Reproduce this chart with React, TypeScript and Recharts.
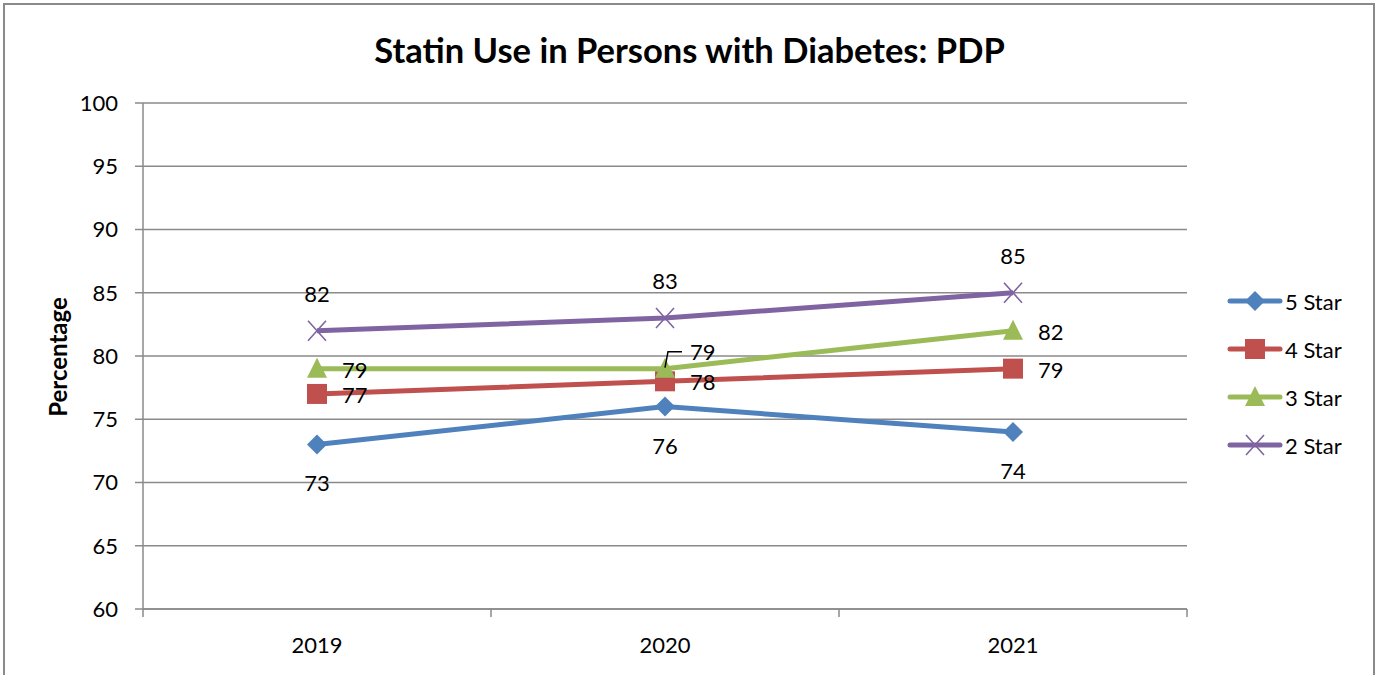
import React from 'react';
import { LineChart, Line, XAxis, YAxis, CartesianGrid, LabelList } from 'recharts';

const years = ['2019', '2020', '2021'];
const fiveStar = [73, 76, 74];
const fourStar = [77, 78, 79];
const threeStar = [79, 79, 82];
const twoStar = [82, 83, 85];
const yTicks = [60, 65, 70, 75, 80, 85, 90, 95, 100];

const data = years.map((year, i) => ({
  year,
  five: fiveStar[i],
  four: fourStar[i],
  three: threeStar[i],
  two: twoStar[i],
}));

const FONT = 'Lato, "Open Sans", sans-serif';
const GRID = '#8a8a8a';
const PLOT_LEFT = 143;
const PLOT_RIGHT = 190;
const PLOT_W = 1377 - PLOT_LEFT - PLOT_RIGHT;
const HALF_BAND = PLOT_W / (years.length * 2);

type Shape = 'diamond' | 'square' | 'triangle' | 'cross';
type LabelPos = 'below' | 'right' | 'above';

const series: { key: string; name: string; color: string; shape: Shape; label: LabelPos }[] = [
  { key: 'five', name: '5 Star', color: '#4F81BD', shape: 'diamond', label: 'below' },
  { key: 'four', name: '4 Star', color: '#C0504D', shape: 'square', label: 'right' },
  { key: 'three', name: '3 Star', color: '#9BBB59', shape: 'triangle', label: 'right' },
  { key: 'two', name: '2 Star', color: '#8064A2', shape: 'cross', label: 'above' },
];

const Marker = ({ cx, cy, shape, color }: { cx: number; cy: number; shape: Shape; color: string }) => {
  if (cx == null || cy == null) return null;
  if (shape === 'diamond')
    return <path d={`M${cx},${cy - 10}L${cx + 10},${cy}L${cx},${cy + 10}L${cx - 10},${cy}Z`} fill={color} />;
  if (shape === 'square') return <rect x={cx - 10} y={cy - 10} width={20} height={20} fill={color} />;
  if (shape === 'triangle')
    return <path d={`M${cx},${cy - 11}L${cx + 10},${cy + 9}L${cx - 10},${cy + 9}Z`} fill={color} />;
  return (
    <path
      d={`M${cx - 9},${cy - 10}L${cx + 9},${cy + 10}M${cx + 9},${cy - 10}L${cx - 9},${cy + 10}`}
      stroke={color}
      strokeWidth={1.6}
      fill="none"
    />
  );
};

const makeLabel = (pos: LabelPos, key: string) => (props: any) => {
  const { x, y, value, index } = props;
  const common = { fontFamily: FONT, fontSize: 22, fill: '#000' };
  if (key === 'three' && index === 1) {
    // moved label with a leader line, as in the source
    return (
      <g>
        <path d={`M${x},${y - 1}L${x + 3},${y - 17}L${x + 17},${y - 17}`} stroke="#000" strokeWidth={1.5} fill="none" />
        <text x={x + 25} y={y - 17} dy="0.36em" textAnchor="start" {...common}>
          {value}
        </text>
      </g>
    );
  }
  if (pos === 'below')
    return (
      <text x={x} y={y + 39} dy="0.36em" textAnchor="middle" {...common}>
        {value}
      </text>
    );
  if (pos === 'above')
    return (
      <text x={x} y={y - 37} dy="0.36em" textAnchor="middle" {...common}>
        {value}
      </text>
    );
  return (
    <text x={x + 25} y={y + 1} dy="0.36em" textAnchor="start" {...common}>
      {value}
    </text>
  );
};

const XTick = (props: any) => {
  const { x, y, payload, index } = props;
  const top = y - 8;
  return (
    <g>
      <line x1={x - HALF_BAND} x2={x - HALF_BAND} y1={top} y2={top + 8} stroke={GRID} strokeWidth={1.5} />
      {index === years.length - 1 && (
        <line x1={x + HALF_BAND} x2={x + HALF_BAND} y1={top} y2={top + 8} stroke={GRID} strokeWidth={1.5} />
      )}
      <text x={x} y={top + 36} dy="0.36em" textAnchor="middle" fontFamily={FONT} fontSize={22} fill="#000">
        {payload.value}
      </text>
    </g>
  );
};

const LegendBox = () => (
  <div style={{ position: 'absolute', left: 1226, top: 277, fontFamily: FONT, fontSize: 22 }}>
    {series.map((s) => (
      <div key={s.key} style={{ display: 'flex', alignItems: 'center', height: 48 }}>
        <svg width={58} height={24}>
          <line x1={4} x2={54} y1={12} y2={12} stroke={s.color} strokeWidth={5} strokeLinecap="round" />
          <Marker cx={29} cy={12} shape={s.shape} color={s.color} />
        </svg>
        <span style={{ marginLeft: 1 }}>{s.name}</span>
      </div>
    ))}
  </div>
);

export default function App() {
  return (
    <div style={{ position: 'absolute', left: 0, top: 0, width: 1377, height: 675, overflow: 'hidden', background: '#fff' }}>
      <div
        style={{
          position: 'absolute',
          left: 3,
          top: 3,
          width: 1368,
          height: 720,
          border: '2px solid #8a8a8a',
        }}
      />
      <div
        style={{
          position: 'absolute',
          left: 0,
          width: 1379,
          top: 29,
          textAlign: 'center',
          fontFamily: FONT,
          fontWeight: 700,
          fontSize: 34.5,
          lineHeight: '42px',
        }}
      >
        Statin Use in Persons with Diabetes: PDP
      </div>
      <svg style={{ position: 'absolute', left: 0, top: 0 }} width={120} height={675}>
        <text
          transform="translate(58,357) rotate(-90)"
          textAnchor="middle"
          dy="0.36em"
          fontFamily={FONT}
          fontWeight={700}
          fontSize={24}
          fill="#000"
        >
          Percentage
        </text>
      </svg>
      <div style={{ position: 'absolute', left: 0, top: 0 }}>
        <LineChart width={1377} height={675} data={data} margin={{ top: 103, right: PLOT_RIGHT, bottom: 0, left: 0 }}>
          <CartesianGrid vertical={false} stroke={GRID} strokeWidth={1.5} />
          <XAxis
            dataKey="year"
            height={66}
            padding={{ left: HALF_BAND, right: HALF_BAND }}
            axisLine={{ stroke: GRID, strokeWidth: 1.5 }}
            tickLine={false}
            tick={<XTick />}
            interval={0}
          />
          <YAxis
            width={PLOT_LEFT}
            domain={[60, 100]}
            ticks={yTicks}
            interval={0}
            tickSize={8}
            tickMargin={17}
            axisLine={{ stroke: GRID, strokeWidth: 1.5 }}
            tickLine={{ stroke: GRID, strokeWidth: 1.5 }}
            tick={{ fill: '#000', fontSize: 22, fontFamily: FONT }}
          />
          {series.map((s) => (
            <Line
              key={s.key}
              dataKey={s.key}
              name={s.name}
              stroke={s.color}
              strokeWidth={5}
              type="linear"
              isAnimationActive={false}
              dot={(p: any) => <Marker key={`${s.key}-${p.index}`} cx={p.cx} cy={p.cy} shape={s.shape} color={s.color} />}
              activeDot={false}
            >
              <LabelList dataKey={s.key} content={makeLabel(s.label, s.key)} />
            </Line>
          ))}
        </LineChart>
      </div>
      <LegendBox />
    </div>
  );
}
